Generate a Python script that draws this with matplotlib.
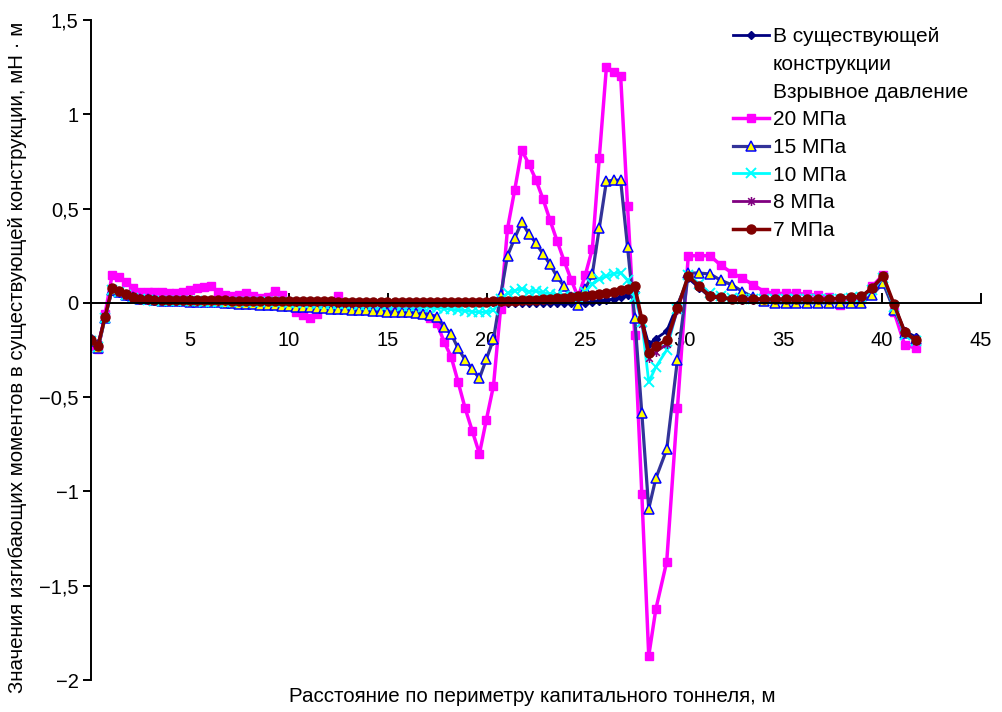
"""
Bending moments in the existing lining vs. perimeter distance of the main tunnel
for several blast pressures.
"""
import matplotlib
matplotlib.use("Agg")
import matplotlib.pyplot as plt
from matplotlib.lines import Line2D
from matplotlib.path import Path

plt.rcParams["font.family"] = ["Liberation Sans", "DejaVu Sans"]

# ── data ────────────────────────────────────────────────────────────────────
x_m = [
    0.00, 0.36, 0.71, 1.07, 1.43, 1.79, 2.14, 2.50, 2.86, 3.21,
    3.57, 3.93, 4.28, 4.64, 5.00, 5.36, 5.71, 6.07, 6.43, 6.78,
    7.14, 7.50, 7.85, 8.21, 8.57, 8.93, 9.28, 9.64, 10.00, 10.35,
    10.71, 11.07, 11.42, 11.78, 12.14, 12.50, 12.85, 13.21, 13.57, 13.92,
    14.28, 14.64, 14.99, 15.35, 15.71, 16.07, 16.42, 16.78, 17.14, 17.49,
    17.85, 18.21, 18.56, 18.92, 19.28, 19.64, 19.99, 20.35, 20.71, 21.06,
    21.42, 21.78, 22.13, 22.49, 22.85, 23.21, 23.56, 23.92, 24.28, 24.63,
    24.99, 25.35, 25.70, 26.06, 26.42, 26.78, 27.13, 27.49, 27.85, 28.20,
    28.56, 29.11, 29.65, 30.20, 30.75, 31.30, 31.84, 32.39, 32.94, 33.48,
    34.03, 34.58, 35.12, 35.67, 36.22, 36.77, 37.31, 37.86, 38.41, 38.95,
    39.50, 40.05, 40.60, 41.14, 41.69,
]

existing = [
    -0.185, -0.215, -0.070, 0.065, 0.050, 0.035, 0.025, 0.018, 0.014, 0.012,
    0.011, 0.010, 0.010, 0.009, 0.009, 0.008, 0.008, 0.008, 0.007, 0.007,
    0.007, 0.006, 0.006, 0.006, 0.005, 0.005, 0.005, 0.005, 0.004, 0.004,
    0.004, 0.004, 0.004, 0.004, 0.003, 0.003, 0.003, 0.003, 0.003, 0.003,
    0.003, 0.003, 0.003, 0.003, 0.003, 0.003, 0.003, 0.003, 0.003, 0.003,
    0.003, 0.003, 0.003, 0.003, 0.003, 0.003, 0.002, 0.002, 0.002, 0.000,
    0.000, -0.002, -0.002, -0.003, -0.003, -0.003, -0.003, -0.003, -0.002, -0.002,
    0.000, 0.005, 0.010, 0.015, 0.020, 0.030, 0.040, 0.060, -0.090, -0.220,
    -0.190, -0.150, -0.010, 0.130, 0.080, 0.030, 0.025, 0.018, 0.015, 0.015,
    0.015, 0.015, 0.015, 0.015, 0.015, 0.015, 0.015, 0.018, 0.025, 0.030,
    0.070, 0.130, -0.010, -0.150, -0.180,
]

p20 = [
    -0.230, -0.245, -0.060, 0.149, 0.135, 0.113, 0.078, 0.060, 0.060, 0.060,
    0.055, 0.052, 0.052, 0.060, 0.069, 0.078, 0.083, 0.087, 0.060, 0.043,
    0.034, 0.040, 0.052, 0.035, 0.028, 0.030, 0.065, 0.040, 0.000, -0.046,
    -0.065, -0.080, -0.060, -0.020, 0.000, 0.034, 0.000, -0.020, -0.030, -0.030,
    -0.035, -0.035, -0.038, -0.040, -0.040, -0.042, -0.045, -0.060, -0.081, -0.108,
    -0.206, -0.286, -0.419, -0.560, -0.680, -0.800, -0.620, -0.440, -0.030, 0.394,
    0.597, 0.810, 0.738, 0.654, 0.552, 0.438, 0.330, 0.223, 0.122, 0.030,
    0.147, 0.287, 0.770, 1.250, 1.225, 1.204, 0.512, -0.170, -1.012, -1.872,
    -1.624, -1.372, -0.560, 0.250, 0.250, 0.250, 0.200, 0.160, 0.130, 0.096,
    0.060, 0.050, 0.050, 0.050, 0.045, 0.040, 0.030, -0.010, 0.020, 0.020,
    0.087, 0.149, -0.046, -0.223, -0.240,
]

p15 = [
    -0.200, -0.240, -0.080, 0.070, 0.055, 0.040, 0.030, 0.022, 0.018, 0.015,
    0.012, 0.010, 0.010, 0.008, 0.006, 0.005, 0.004, 0.003, 0.002, 0.000,
    -0.002, -0.004, -0.006, -0.008, -0.010, -0.012, -0.014, -0.016, -0.018, -0.020,
    -0.022, -0.024, -0.026, -0.028, -0.030, -0.032, -0.034, -0.036, -0.038, -0.040,
    -0.042, -0.044, -0.046, -0.047, -0.048, -0.050, -0.053, -0.057, -0.062, -0.076,
    -0.126, -0.165, -0.241, -0.303, -0.353, -0.400, -0.298, -0.193, 0.040, 0.250,
    0.342, 0.429, 0.367, 0.318, 0.260, 0.204, 0.140, 0.087, 0.030, -0.010,
    0.073, 0.154, 0.397, 0.645, 0.650, 0.650, 0.294, -0.078, -0.583, -1.092,
    -0.930, -0.777, -0.303, 0.158, 0.158, 0.153, 0.120, 0.096, 0.060, 0.030,
    0.010, 0.000, 0.000, 0.000, 0.000, 0.000, 0.000, 0.000, 0.000, 0.000,
    0.043, 0.105, -0.037, -0.160, -0.190,
]

p10 = [
    -0.200, -0.235, -0.080, 0.070, 0.055, 0.040, 0.028, 0.020, 0.015, 0.012,
    0.010, 0.010, 0.010, 0.008, 0.008, 0.008, 0.007, 0.007, 0.006, 0.006,
    0.005, 0.005, 0.004, 0.004, 0.003, 0.003, 0.002, 0.002, 0.001, 0.000,
    -0.002, -0.003, -0.004, -0.005, -0.005, -0.006, -0.007, -0.008, -0.009, -0.010,
    -0.011, -0.012, -0.013, -0.014, -0.015, -0.016, -0.018, -0.020, -0.023, -0.026,
    -0.030, -0.034, -0.038, -0.042, -0.046, -0.050, -0.048, -0.040, 0.020, 0.050,
    0.065, 0.075, 0.060, 0.062, 0.055, 0.048, 0.042, 0.036, 0.030, 0.028,
    0.060, 0.100, 0.125, 0.140, 0.155, 0.160, 0.120, 0.030, -0.100, -0.420,
    -0.340, -0.250, -0.030, 0.150, 0.100, 0.050, 0.035, 0.025, 0.020, 0.020,
    0.020, 0.020, 0.020, 0.020, 0.020, 0.020, 0.020, 0.022, 0.025, 0.030,
    0.070, 0.130, -0.020, -0.170, -0.200,
]

p8 = [
    -0.190, -0.220, -0.070, 0.075, 0.058, 0.040, 0.028, 0.020, 0.016, 0.014,
    0.014, 0.013, 0.013, 0.013, 0.012, 0.012, 0.012, 0.011, 0.011, 0.011,
    0.010, 0.010, 0.010, 0.009, 0.009, 0.009, 0.008, 0.008, 0.008, 0.007,
    0.007, 0.007, 0.006, 0.006, 0.006, 0.005, 0.005, 0.005, 0.004, 0.004,
    0.004, 0.004, 0.003, 0.003, 0.003, 0.003, 0.003, 0.003, 0.003, 0.003,
    0.003, 0.003, 0.004, 0.004, 0.004, 0.005, 0.005, 0.006, 0.007, 0.008,
    0.010, 0.011, 0.013, 0.015, 0.017, 0.019, 0.022, 0.025, 0.028, 0.032,
    0.036, 0.041, 0.046, 0.052, 0.058, 0.064, 0.072, 0.080, -0.110, -0.290,
    -0.260, -0.220, -0.040, 0.140, 0.090, 0.040, 0.030, 0.020, 0.020, 0.020,
    0.020, 0.020, 0.020, 0.020, 0.020, 0.020, 0.020, 0.024, 0.028, 0.032,
    0.075, 0.135, -0.010, -0.160, -0.200,
]

p7 = [
    -0.197, -0.229, -0.075, 0.080, 0.062, 0.045, 0.030, 0.022, 0.018, 0.016,
    0.016, 0.015, 0.015, 0.015, 0.014, 0.014, 0.014, 0.013, 0.013, 0.013,
    0.012, 0.012, 0.012, 0.011, 0.011, 0.011, 0.010, 0.010, 0.010, 0.009,
    0.009, 0.009, 0.008, 0.008, 0.008, 0.007, 0.007, 0.007, 0.006, 0.006,
    0.006, 0.006, 0.005, 0.005, 0.005, 0.005, 0.005, 0.005, 0.005, 0.005,
    0.005, 0.005, 0.006, 0.006, 0.006, 0.007, 0.007, 0.008, 0.009, 0.010,
    0.012, 0.013, 0.015, 0.017, 0.019, 0.021, 0.024, 0.027, 0.030, 0.034,
    0.038, 0.043, 0.048, 0.054, 0.060, 0.066, 0.075, 0.090, -0.087, -0.268,
    -0.229, -0.197, -0.028, 0.144, 0.087, 0.034, 0.030, 0.020, 0.020, 0.020,
    0.020, 0.020, 0.020, 0.020, 0.020, 0.020, 0.020, 0.025, 0.030, 0.034,
    0.080, 0.144, -0.007, -0.153, -0.197,
]

label_existing = ["В существующей", "конструкции"]
label_header = "Взрывное давление"
labels_pressure = ["20 МПа", "15 МПа", "10 МПа", "8 МПа", "7 МПа"]

x_ticks = [5, 10, 15, 20, 25, 30, 35, 40, 45]
y_ticks = [-2, -1.5, -1, -0.5, 0, 0.5, 1, 1.5]
y_tick_labels = ["\u22122", "\u22121,5", "\u22121", "\u22120,5", "0", "0,5", "1", "1,5"]

x_label = "Расстояние по периметру капитального тоннеля, м"
y_label = "Значения изгибающих моментов в существующей конструкции, мН · м"

FS_TICK = 14.5
FS_LABEL = 14.8
FS_LEG = 15

# Excel-style asterisk: an X with a vertical bar through it
ASTERISK = Path(
    [(-1, -1), (1, 1), (-1, 1), (1, -1), (0, -1.35), (0, 1.35)],
    [Path.MOVETO, Path.LINETO] * 3,
)

# ── figure ───────────────────────────────────────────────────────────────────
fig = plt.figure(figsize=(10.02, 7.12), dpi=100)
ax = fig.add_axes([91 / 1002, 32 / 712, 890 / 1002, 660 / 712])

l_ex, = ax.plot(x_m, existing, color="#000080", lw=2.0, marker="D", ms=4,
                mfc="#000080", mec="#000080")
l_20, = ax.plot(x_m, p20, color="#FF00FF", lw=2.5, marker="s", ms=5.5,
                mfc="#FF00FF", mec="#FF00FF")
l_15, = ax.plot(x_m, p15, color="#333399", lw=2.3, marker="^", ms=7,
                mfc="#FFFF00", mec="#0000FF", mew=1.1)
l_10, = ax.plot(x_m, p10, color="#00FFFF", lw=2.0, marker="x", ms=6.5,
                mec="#00FFFF", mew=1.4)
l_8, = ax.plot(x_m, p8, color="#800080", lw=2.0, marker=ASTERISK, ms=6.5,
               mec="#800080", mew=1.1)
l_7, = ax.plot(x_m, p7, color="#800000", lw=2.5, marker="o", ms=6.5,
               mfc="#800000", mec="#800000")

ax.set_xlim(0, 45)
ax.set_ylim(-2, 1.5)

ax.spines["top"].set_visible(False)
ax.spines["right"].set_visible(False)
ax.spines["bottom"].set_position(("data", 0))
for s in ("left", "bottom"):
    ax.spines[s].set_linewidth(1.4)

ax.set_xticks(x_ticks)
ax.set_xticklabels([str(t) for t in x_ticks])
ax.set_yticks(y_ticks)
ax.set_yticklabels(y_tick_labels)
ax.tick_params(axis="x", direction="in", length=7, width=1.4, pad=20, labelsize=FS_TICK)
ax.tick_params(axis="y", direction="out", length=6, width=1.4, pad=3, labelsize=FS_TICK)

fig.text(532 / 1002, 1 - 697 / 712, x_label, ha="center", va="center", fontsize=FS_LABEL)
fig.text(18 / 1002, 1 - 357 / 712, y_label, ha="center", va="center",
         rotation=90, fontsize=FS_LABEL)

blank = Line2D([], [], linestyle="none")
handles = [l_ex, blank, blank, l_20, l_15, l_10, l_8, l_7]
labels = label_existing + [label_header] + labels_pressure
ax.legend(handles, labels, loc="upper left",
          bbox_to_anchor=(733 / 1002, 1 - 27 / 712), bbox_transform=fig.transFigure,
          frameon=False, fontsize=FS_LEG, numpoints=1, handlelength=1.75,
          handletextpad=0.15, labelspacing=0.42, borderpad=0, borderaxespad=0)

fig.savefig("out.png", dpi=100)
